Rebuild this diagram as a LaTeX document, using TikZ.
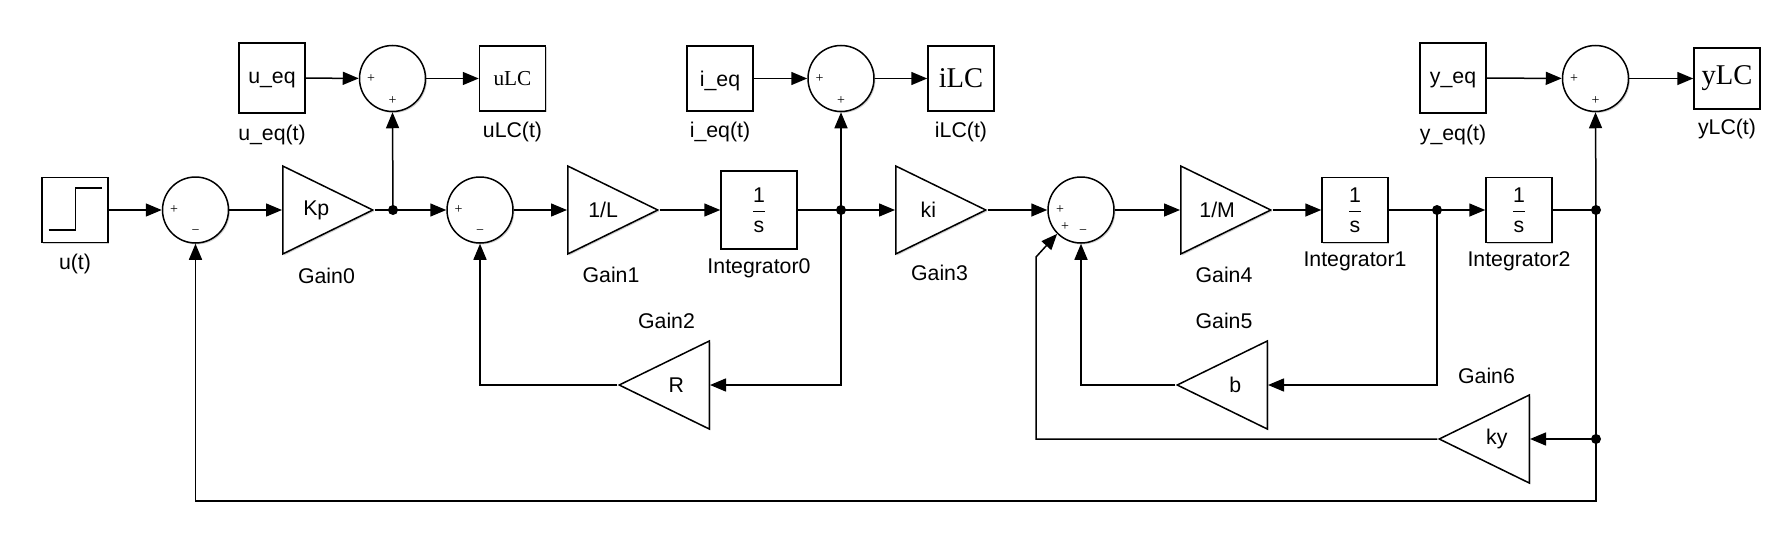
\documentclass[tikz,border=0pt]{standalone}
\usepackage{fontspec}
\setmainfont{Liberation Sans}
\newfontfamily\simserif{Liberation Serif}
\usetikzlibrary{arrows.meta,shapes.geometric,shadows}

\tikzset{
	every node/.style={font=\fontsize{10.65}{12.8}\selectfont},
	shd/.style={drop shadow={shadow xshift=0.7pt, shadow yshift=-0.7pt, fill=black!60, opacity=0.3}},
	blk/.style={draw, fill=white, shd, inner sep=0pt, minimum width=33pt, minimum height=32.5pt},
	eqblk/.style={blk, minimum height=35pt, text depth=0pt},
	sumc/.style={circle, draw, fill=white, shd, inner sep=0pt, minimum size=33pt},
	gain/.style={isosceles triangle, isosceles triangle stretches, draw, fill=white, shd, inner sep=0pt, minimum width=44pt, minimum height=45pt, anchor=lower side},
	gainl/.style={gain, shape border rotate=180},
	sgn/.style={font=\simserif\fontsize{7}{8}\selectfont, inner sep=0pt},
	dot/.style={circle, fill, inner sep=0pt, minimum size=5pt},
	sig/.style={-{Triangle[length=8pt,width=6.5pt]}}
}

\begin{document}
\begin{tikzpicture}[x=0.5pt, y=-0.5pt, line width=0.75pt]
	\useasboundingbox (0,0) rectangle (1790,546);

	\node[blk] (u) at (75,210) {};
	\draw[line width=0.6pt] ([shift={(-13.2pt,-10pt)}]u.center) -- ++(13.4pt,0pt) -- ++(0pt,21pt) -- ++(13.4pt,0pt);
	\node (ul) at (75,264) {u(t)};

	\node[sumc] (s0) at (195.5,210) {};
	\node[sgn] (s0p) at ([xshift=-10.75pt]s0.center) {+};
	\node[sgn] (s0m) at ([yshift=-11pt]s0.center) {−};

	\node[gain] (g0) at (282,210) {\kern5pt Kp};
	\node (g0l) at (326.5,275.5) {Gain0};

	\node[eqblk] (ueq) at (272,78) {u\_eq};
	\node (ueql) at (272,135) {u\_eq(t)};
	\node[sumc] (su) at (392.5,78.5) {};
	\node[sgn] (sup) at ([xshift=-10.75pt]su.center) {+};
	\node[sgn] (sub) at ([yshift=-11.25pt]su.center) {+};
	\node[blk] (ulc) at (512.5,78.5) {\simserif uLC};
	\node (ulcl) at (512.5,131.5) {uLC(t)};

	\node[sumc] (s1) at (480,210) {};
	\node[sgn] (s1p) at ([xshift=-10.75pt]s1.center) {+};
	\node[sgn] (s1m) at ([yshift=-11pt]s1.center) {−};

	\node[gain] (g1) at (567,210) {\kern5pt 1/L};
	\node (g1l) at (611,274.5) {Gain1};

	\node[blk, minimum width=38pt, minimum height=39pt] (i0) at (759,210) {$\displaystyle\frac{\mbox{1}}{\mbox{s}}$};
	\node (i0l) at (759,268) {Integrator0};

	\node[eqblk, minimum height=32.5pt] (ieq) at (720,78.5) {i\_eq};
	\node (ieql) at (720,131.5) {i\_eq(t)};
	\node[sumc] (si) at (841,78.5) {};
	\node[sgn] (sip) at ([xshift=-10.75pt]si.center) {+};
	\node[sgn] (sib) at ([yshift=-11.25pt]si.center) {+};
	\node[blk] (ilc) at (961,78.5) {\simserif\fontsize{14.3}{16}\selectfont iLC};
	\node (ilcl) at (961,131.5) {iLC(t)};

	\node[gainl] (g2) at (710,385) {R\kern5pt};
	\node (g2l) at (666.5,320.5) {Gain2};

	\node[gain] (g3) at (895,210) {\kern5pt ki};
	\node (g3l) at (939.5,272.5) {Gain3};

	\node[sumc] (s2) at (1081,210) {};
	\node[sgn] (s2p) at ([xshift=-10.5pt]s2.center) {+};
	\node[sgn] (s2q) at ([shift={(-8pt,-8.5pt)}]s2.center) {+};
	\node[sgn] (s2m) at ([shift={(1pt,-11pt)}]s2.center) {−};

	\node[gain] (g4) at (1180,210) {\kern5pt 1/M};
	\node (g4l) at (1224,274.5) {Gain4};

	\node[blk] (i1) at (1355,210) {$\displaystyle\frac{\mbox{1}}{\mbox{s}}$};
	\node (i1l) at (1355,261.5) {Integrator1};
	\node[blk] (i2) at (1519,210) {$\displaystyle\frac{\mbox{1}}{\mbox{s}}$};
	\node (i2l) at (1519,261.5) {Integrator2};

	\node[gainl] (g5) at (1268,385) {b\kern5pt};
	\node (g5l) at (1224,320.5) {Gain5};
	\node[gainl] (g6) at (1530,439) {ky\kern5pt};
	\node (g6l) at (1486.5,375.5) {Gain6};

	\node[eqblk] (yeq) at (1453,78) {y\_eq};
	\node (yeql) at (1453,135) {y\_eq(t)};
	\node[sumc] (sy) at (1595.5,78.5) {};
	\node[sgn] (syp) at ([xshift=-10.75pt]sy.center) {+};
	\node[sgn] (syb) at ([yshift=-11.25pt]sy.center) {+};
	\node[blk, minimum height=30.5pt] (ylc) at (1727,78.5) {\simserif\fontsize{14.3}{16}\selectfont yLC};
	\node (ylcl) at (1727,129) {yLC(t)};

	\node[dot] (d0) at (393,210) {};
	\node[dot] (d1) at (841,210) {};
	\node[dot] (d2) at (1437,210) {};
	\node[dot] (d3) at (1596,210) {};
	\node[dot] (d4) at (1596,439) {};
	\coordinate (k1) at (1036,257);
	\coordinate (fb) at (1596,501);

	\draw[sig] (u) -- (s0);
	\draw[sig] (s0) -- (g0.lower side);
	\draw[sig] (g0.apex) -- (s1.west);
	\draw[sig] (d0.center) -- (su.south);
	\draw[sig] (ueq) -- (su);
	\draw[sig] (su) -- (ulc);
	\draw[sig] (s1) -- (g1.lower side);
	\draw[sig] (g1.apex) -- (i0);
	\draw[sig] (i0) -- (g3.lower side);
	\draw[sig] (d1.center) -- (si.south);
	\draw[sig] (ieq) -- (si);
	\draw[sig] (si) -- (ilc);
	\draw[sig] (d1.center) |- (g2.lower side);
	\draw[sig] (g2.apex) -| (s1.south);
	\draw[sig] (g3.apex) -- (s2.west);
	\draw[sig] (s2) -- (g4.lower side);
	\draw[sig] (g4.apex) -- (i1);
	\draw[sig] (i1) -- (i2);
	\draw[sig] (d2.center) |- (g5.lower side);
	\draw[sig] (g5.apex) -| (s2.south);
	\draw (i2) -- (d3.center);
	\draw[sig] (d3.center) -- (sy.south);
	\draw[sig] (yeq) -- (sy);
	\draw[sig] (sy) -- (ylc);
	\draw[sig] (d4.center) -- (g6.lower side);
	\draw[sig] (g6.apex) -| (k1) -- (s2.225);
	\draw[sig] (d3.center) -- (fb) -| (s0.south);
\end{tikzpicture}
\end{document}
